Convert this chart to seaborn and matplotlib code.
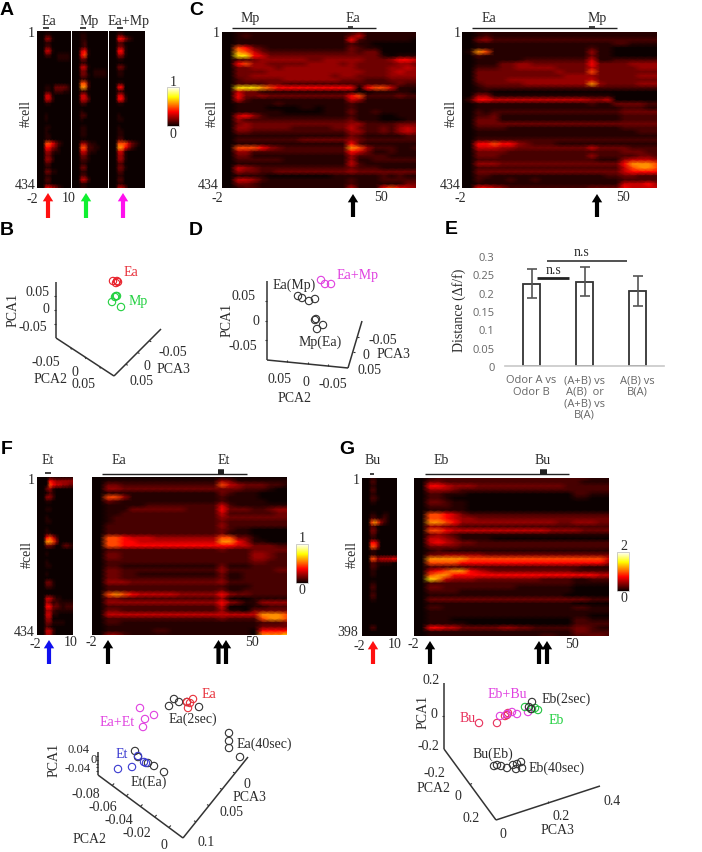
"""Multi-panel calcium imaging figure: heatmaps, PCA projections and a bar plot."""
import numpy as np
import matplotlib
matplotlib.use("Agg")
import matplotlib.pyplot as plt
from matplotlib.cm import ScalarMappable
from matplotlib.colors import Normalize
import seaborn as sns

W, H = 702, 853
DARK = "#2b2b2b"

# df/f level for each digit used in the heatmap rows below
digit_levels = [0, 0.04, 0.09, 0.15, 0.21, 0.28, 0.37, 0.47, 0.58, 0.7]

# heatmap rows, one digit per time bin
a_ea = """000000000000 000110000000 000441000000 000110000000 000220000000 000551000000 000220011110 000000011110
000000000000 000000000000 000000000000 000000000000 000000000000 000000000000 000110333320 000110222110
000551000000 000552000000 000110000000 000000000000 000000000000 000100000000 000100000000 000000000000
000110000000 000100000000 000110000000 000110000000 000776421000 000664310000 000442110000 000331000000
000442000000 000220000000 000110000000 000331100000 000110000000 000220000000 000110000000 000665421000""".split()
a_mp = """000000000000 000110000000 000110000000 000120000000 000120000000 000561000000 000671000000 000330000000
000110000000 000551000000 000330011110 000331011110 000110000000 000772000000 000882000000 000110000000
000551000000 000553000000 000220000000 000000000000 000100000000 000220000000 000100000000 000000000000
000110000000 000110000000 000110000000 000000000000 000442110000 000772211000 000552110000 000331000000
000221000000 000110000000 000330000000 000110000000 000220000000 000552000000 000110000000 000110000000""".split()
a_mix = """000000000000 000220000000 000664210000 000220000000 000331000000 000661000000 000441000000 000110000000
000000000000 000331000000 000110000000 000110000000 000000000000 000110000000 000660000000 000110000000
000551000000 000662000000 000110000000 000000000000 000000000000 000100000000 000110000000 000000000000
000100000000 000110000000 000110000000 000220000000 000777532100 000886421000 000551000000 000441000000
000441000000 000220000000 000331000000 000220000000 000110000000 000220000000 000110000000 000553000000""".split()

c_left = """0011111111111111121111111 0012111111111111351111111 0011111111111111621111110 0011111111111111211000000
0076321111111111321100000 0087532222222222323300000 0099653333333333333310111 0022344444433444443334665
0067443333344443433333443 0033444344444444433334454 0033334444444444443334544 0033444444444434433334444
0023333344444443332223333 0022223322222222222222322 0099987666666666606775111 0053311111111111100111110
0063343333333333672222322 0052111111111111541111111 0011111211111111211111111 0011110000110111211111111
0011111100000111311211111 0056421111111111211100111 0042222222222222311100011 0034333333333333442222333
0044333332222233532232454 0033222222222222442232454 0011111111111111321111122 0022222222333333432222222
0011111111111111621111111 0077764322222222874222112 0044222222222222653112111 0033111111111111422221111
0022222211111111411222222 0011111111111111521111111 0054322222222222322211111 0043322333333333433333333
0011110000000011111121211 0055421111111111211122222 0033211111111111211111133 0012211111111111511167654""".split()
c_right = """0011111111111111111111111 0012111111111111111111111 0034222222222222222222222 0011111111111111111221111
0011111111111111211000000 0187111111111111411000000 0021111111111111311000000 0011111122222222511222222
0011133443333333633334444 0022233444443333533333444 0033333333334333733333333 0033333333333444433333444
0033334444444444533333333 0023333344444444843333444 0012222222222222222222222 0011000000000000000000000
0044111111111111111000000 0266555555555555445000000 0011111111111111211333322 0011111111111111111122211
0021222222222222222233333 0022311111111111111122222 0033311111111111111122222 0033333333333333333333333
0022221111111111111122222 0011111111111111111111222 0011111111111111111111111 0022222222222222222222222
0066766432221111111111111 0055544333333333533332222 0033332222222222222233322 0033322222222222422222332
0022222222222222211145554 0044433333333333333368887 0022222222222222222257887 0033333333333333333356666
0022111111111111112233222 0021112112111111111122222 0011111111111111111155564 0066542222222222333365555""".split()

f_left = """000000000000 000065444444 000076554433 000341000000 000021000000 000442000000 000110000000 000000000000
000110000000 000000000000 000100000000 000110000000 000000000000 000100000000 000110000000 000675200000
000887400000 000332002321 000000000000 000100000000 000000000000 000100000000 000110000000 000000000000
000100000000 000000000000 000331000000 000221000000 000000000000 000000000000 000553110000 000431211111
000663321222 000442111111 000551100000 000440000000 000331111000 000210000000 000552000000 000441000000""".split()
f_right = """0000000000000000000000000 0011111111111111431111111 0033222222222222754333221 0044333333333333333222100
0011111111111111321110000 0077411111111111211110000 0032111111111111211111000 0011111222222222521111111
0011133333332222633322344 0011222222222222522222233 0012222222222222433333333 0012222222222222322222222
0022222222222222422222222 0022222222222222321100000 0022222222222222311100000 0077655544444444773310000
0077665555555555886411000 0077666666666666665533322 0022222222222222322233333 0033222222222222222244322
0033222222222222222244322 0022222222222222222233222 0022111111111111311122222 0033222222222222422222233
0033221111111111311222222 0033222222222222311222222 0044433333333333422222222 0022222222222222211122222
0022222222222222311222222 0078765555544444643322222 0033222222222222400011111 0044444444444444643114444
0022222222222222500011222 0033222222222222411033333 0055555555555555555558887 0022222222222222322227887
0022111111111111111112223 0011111111111111111113333 0011111122111111111106666 0044211111111111111108889""".split()

g_left = """000110000000 000220000000 000110000000 000220000000 000110000000 000221000000 000110000000 000000000000
000000000000 000110011000 000221121000 000787421000 000220000000 000331000000 000220000000 000110000000
000664000000 000774000000 000110000000 000110000000 000774555565 000221111100 000221000000 000110000000
000110000000 000000000000 000110000000 000220000000 000110000000 000220000000 000110000000 000000000000
000000000000 000000000000 000000000000 000000000000 000000000000 000220000000 000000000000 000000000000""".split()
g_right = """0012222222222222222222111 0033222222222222222221111 0066544433333333333222222 0044432222222222222222222
0022111000000000000022111 0022100000000000000011000 0033211000000000000000000 0022211000000000000000000
0011111000000000000000000 0077653222222222222222222 0077654433333333333333333 0088764444444444443344433
0044332222222222222222222 0077655555555555544443333 0034321111111111111111111 0055431111000000000000000
0056543322222222222222222 0033332222222222222222222 0012111111111111111111111 0033444443333333333333333
0088888777777777777777775 0077776666666666666666664 0022222222222222222221111 0056788654333333333322222
0078866666666666666666655 0098544433333333222211222 0022222222222222222211111 0033222222222111111100000
0022221111111111111100000 0011111111111111111000000 0033333333333333333333222 0011111111111111111100000
0022111111111111111122111 0011111111111111111111111 0011111111111111111111000 0011100000000000000022111
0011111000000000000022222 0066553333344332222233211 0011111111111111111133222 0011111111111111221122332""".split()

# panel E
bar_labels = ["Odor A vs\nOdor B", "(A+B) vs\nA(B)  or\n(A+B) vs\nB(A)", "A(B) vs\nB(A)"]
bar_values = [0.225, 0.23, 0.205]
bar_errors = [0.039, 0.039, 0.04]
bar_ticks = [0, 0.05, 0.1, 0.15, 0.2, 0.25, 0.3]
bar_tick_labels = ["0", "0.05", "0.1", "0.15", "0.2", "0.25", "0.3"]

# PCA projections
b_ea_x, b_ea_y = [113, 117, 118, 116], [282, 282, 283, 284]
b_mp_x, b_mp_y = [116, 115, 112, 121, 117], [297, 298, 303, 308, 297]
d_mix_x, d_mix_y = [321, 325, 331], [281, 285, 285]
d_ea_x, d_ea_y = [298, 302, 309, 315], [297, 299, 302, 300]
d_mp_x, d_mp_y = [315, 316, 323, 317], [321, 320, 326, 330]
f_2s_x, f_2s_y = [174, 179, 169, 187, 199], [700, 703, 707, 703, 708]
f_ea_x, f_ea_y = [187, 193, 188, 190], [703, 700, 709, 704]
f_mix_x, f_mix_y = [140, 145, 154, 143], [709, 720, 716, 728]
f_40s_x, f_40s_y = [229, 229, 229, 240], [734, 742, 749, 758]
f_et_x, f_et_y = [118, 132, 138, 144, 146], [770, 768, 757, 763, 764]
f_etea_x, f_etea_y = [135, 148, 154, 164, 138], [752, 764, 767, 773, 758]
g_bu_x, g_bu_y = [479, 497, 505, 508, 507], [724, 724, 717, 714, 716]
g_mix_x, g_mix_y = [500, 512, 517, 528, 507], [717, 713, 715, 713, 715]
g_eb_x, g_eb_y = [525, 538, 532, 535], [708, 711, 710, 709]
g_2s_x, g_2s_y = [532, 529, 531], [703, 708, 710]
g_40s_x = [494, 497, 501, 507, 513, 516, 517, 521, 522]
g_40s_y = [767, 766, 767, 769, 766, 770, 765, 763, 769]

sns.set_style("white")
plt.rcParams["font.family"] = ["Liberation Serif", "DejaVu Serif"]

fig = plt.figure(figsize=(W / 100, H / 100), dpi=100, facecolor="white")


def px_axes(x0, y0, x1, y1, **kw):
    return fig.add_axes([x0 / W, 1 - y1 / H, (x1 - x0) / W, (y1 - y0) / H], **kw)


def draw_heatmap(rows, box):
    ax = px_axes(*box)
    width = max(len(r) for r in rows)
    data = np.array([[digit_levels[int(c)] for c in r.ljust(width, "0")] for r in rows])
    sns.heatmap(data, ax=ax, cmap="hot", vmin=0, vmax=1, cbar=False,
                xticklabels=False, yticklabels=False, shading="gouraud")
    ax.set_xlim(0, data.shape[1] - 1)
    ax.set_ylim(data.shape[0] - 1, 0)
    return ax


def draw_colorbar(box):
    cax = px_axes(*box)
    cb = fig.colorbar(ScalarMappable(Normalize(0, 1), "hot"), cax=cax)
    cb.set_ticks([])
    cb.outline.set_edgecolor("#bbbbbb")
    cb.outline.set_linewidth(0.5)


draw_heatmap(a_ea, (37, 32, 71, 189))
draw_heatmap(a_mp, (72, 32, 108, 189))
draw_heatmap(a_mix, (109, 32, 145, 189))
draw_heatmap(c_left, (222, 33, 416, 189))
draw_heatmap(c_right, (462, 33, 657, 189))
draw_heatmap(f_left, (37, 478, 73, 636))
draw_heatmap(f_right, (92, 478, 287, 636))
draw_heatmap(g_left, (362, 479, 397, 637))
draw_heatmap(g_right, (414, 479, 609, 637))
draw_colorbar((167, 88, 179, 127))
draw_colorbar((296, 545, 308, 584))
draw_colorbar((617, 553, 629, 592))

# panel E
bar_ax = px_axes(505, 257, 664, 367)
sns.barplot(x=bar_labels, y=bar_values, ax=bar_ax, color="white", edgecolor="#333333",
            linewidth=1.3, width=0.33, errorbar=None)
bar_ax.errorbar(range(3), bar_values, yerr=bar_errors, fmt="none", ecolor="#555555",
                elinewidth=1.2, capsize=3.5, capthick=1.2)
bar_ax.set_xlim(-0.5, 2.5)
bar_ax.set_ylim(0, 0.3)
bar_ax.set_yticks(bar_ticks, bar_tick_labels)
bar_ax.tick_params(axis="y", length=0, pad=7.5, labelsize=8, labelcolor="#666666")
bar_ax.tick_params(axis="x", length=0, pad=6, labelsize=8, labelcolor="#666666")
for lab in bar_ax.get_xticklabels() + bar_ax.get_yticklabels():
    lab.set_family("Open Sans")
for lab in bar_ax.get_xticklabels():
    lab.set_linespacing(1.05)
bar_ax.patch.set_alpha(0)
sns.despine(ax=bar_ax, left=True)
bar_ax.spines["bottom"].set_color("#c8c8c8")
bar_ax.spines["bottom"].set_linewidth(1.2)

# everything drawn by hand goes on a page-sized overlay in pixel units
page = fig.add_axes([0, 0, 1, 1], zorder=10)
page.set_xlim(0, W)
page.set_ylim(H, 0)
page.set_autoscale_on(False)
page.axis("off")


def note(x, y, s, color=DARK, size=10, **kw):
    page.text(x, y, s, color=color, fontsize=size, ha="center", va="center", **kw)


def panel(x, y, s):
    page.text(x, y, s, fontsize=14, fontweight="bold", family="Liberation Sans",
              ha="center", va="center", color="black")


def rings(xs, ys, color):
    sns.scatterplot(x=xs, y=ys, ax=page, s=28, facecolor="none", edgecolor=color,
                    linewidth=0.8, clip_on=False)


def arrow(x, y0, y1, color="black"):
    page.annotate("", xy=(x, y0), xytext=(x, y1),
                  arrowprops=dict(facecolor=color, edgecolor="none", width=3,
                                  headwidth=7.5, headlength=6, shrink=0))


def line(x0, x1, y0, y1=None, lw=1.0, color="#222222"):
    page.plot([x0, x1], [y0, y0 if y1 is None else y1], color=color, lw=lw,
              solid_capstyle="butt")


def axis3d(p0, p1, nticks=0, tick=(0, 0)):
    line(p0[0], p1[0], p0[1], p1[1], lw=1.1, color="#333333")
    for i in range(1, nticks + 1):
        fx = p0[0] + (p1[0] - p0[0]) * i / (nticks + 1)
        fy = p0[1] + (p1[1] - p0[1]) * i / (nticks + 1)
        line(fx, fx + tick[0], fy, fy + tick[1], lw=0.8, color="#333333")


for letter, lx, ly in [("A", 7, 10), ("B", 7, 230), ("C", 196, 10), ("D", 196, 230),
                       ("E", 451, 229), ("F", 7, 449), ("G", 347, 449)]:
    panel(lx, ly, letter)

# panel A
note(49, 21, "Ea"), note(89, 21, "Mp"), note(129, 21, "Ea+Mp")
for ux in (46, 83, 120):
    line(ux - 3, ux + 3, 28.5, lw=1.2)
note(31, 33, "1"), note(25, 185, "434"), note(32, 199, "-2"), note(69, 198, "10")
note(26, 113, "#cell", rotation=90)
arrow(48, 194, 219, "#ff1010"), arrow(86, 194, 219, "#10f030"), arrow(123, 194, 219, "#ff10ee")
note(173, 82, "1"), note(173, 134, "0")

# panel C
line(232, 376, 29), line(348, 353, 27.5, lw=1.2)
note(250, 18, "Mp"), note(353, 18, "Ea")
note(216, 33, "1"), note(208, 185, "434"), note(217, 198, "-2"), note(381, 197, "50")
note(212, 113, "#cell", rotation=90)
arrow(353, 195, 218)
line(472, 617, 29), line(589, 595, 27.5, lw=1.2)
note(489, 18, "Ea"), note(597, 18, "Mp")
note(457, 33, "1"), note(450, 185, "434"), note(460, 198, "-2"), note(623, 197, "50")
note(451, 113, "#cell", rotation=90)
arrow(597, 195, 218)

# panel B
axis3d((56, 283), (56, 339), 3, (-2, 0))
axis3d((56, 339), (114, 377), 3, (1, 2))
axis3d((114, 377), (161, 330), 3, (2, 1))
note(37, 292, "0.05"), note(46, 309, "0"), note(33, 327, "-0.05")
note(13, 310, "PCA1", rotation=90)
note(46, 362, "-0.05"), note(51, 379, "PCA2"), note(75, 372, "0"), note(84, 384, "0.05")
note(142, 381, "0.05"), note(173, 369, "PCA3"), note(147, 366, "0"), note(173, 352, "-0.05")
rings(b_ea_x, b_ea_y, "#e8202a")
rings(b_mp_x, b_mp_y, "#22d040")
note(131, 272, "Ea", color="#e8303a"), note(138, 301, "Mp", color="#22d040")

# panel D
axis3d((267, 282), (267, 361), 3, (-2, 0))
axis3d((267, 361), (348, 369), 3, (0, -2))
axis3d((348, 369), (362, 322), 2, (2, 0))
note(243, 296, "0.05"), note(256, 321, "0"), note(243, 346, "-0.05")
note(227, 320, "PCA1", rotation=90)
note(279, 379, "0.05"), note(306, 382, "0"), note(333, 384, "-0.05"), note(295, 398, "PCA2")
note(383, 340, "-0.05"), note(366, 355, "0"), note(393, 354, "PCA3"), note(370, 370, "0.05")
rings(d_mix_x, d_mix_y, "#e040e0")
rings(d_ea_x, d_ea_y, "#333333")
rings(d_mp_x, d_mp_y, "#333333")
note(358, 275, "Ea+Mp", color="#e040e0"), note(294, 285, "Ea(Mp)"), note(320, 342, "Mp(Ea)")

# panel E labels and brackets
note(459, 310, "Distance (\u0394f/f)", rotation=90)
line(547, 627, 262, lw=1.1), note(582, 252, "n.s")
line(537, 569, 279, lw=2), note(554, 270, "n.s")

# panel F
note(48, 461, "Et"), note(119, 461, "Ea"), note(224, 461, "Et")
line(45, 51, 474, lw=1.2)
line(102, 247, 474.5), line(218, 224, 472.5, lw=4)
note(31, 481, "1"), note(24, 632, "434"), note(35, 644, "-2"), note(71, 643, "10")
note(91, 643, "-2"), note(252, 643, "50"), note(27, 555, "#cell", rotation=90)
arrow(49, 641, 665, "#1010ee"), arrow(108, 641, 665), arrow(218.5, 641, 665), arrow(226, 641, 665)
note(302, 539, "1"), note(302, 591, "0")

# panel G
note(373, 461, "Bu"), note(441, 461, "Eb"), note(543, 461, "Bu")
line(370, 374, 474.5, lw=1.2)
line(425, 569, 474.5), line(540, 547, 472.5, lw=4)
note(356, 481, "1"), note(348, 633, "398"), note(359, 646, "-2"), note(395, 645, "10")
note(413, 645, "-2"), note(572, 645, "50"), note(352, 555, "#cell", rotation=90)
arrow(373, 642, 665, "#ff1010"), arrow(430, 642, 665), arrow(539, 642, 665), arrow(547, 642, 665)
note(624, 547, "2"), note(624, 599, "0")

# panel F projection
axis3d((98, 753), (98, 776), 5, (-2, 0))
axis3d((98, 776), (183, 839), 5, (2, -2))
axis3d((183, 839), (248, 758), 4, (-2, -1))
note(79, 750, "0.04", size=9), note(94, 760, "0", size=9), note(78, 769, "-0.04", size=9)
note(54, 760, "PCA1", rotation=90)
note(86, 795, "-0.08"), note(103, 808, "-0.06"), note(119, 821, "-0.04"), note(137, 834, "-0.02")
note(164, 846, "0"), note(90, 840, "PCA2"), note(206, 843, "0.1"), note(232, 813, "0.05")
note(249, 798, "PCA3"), note(247, 785, "0")
rings(f_2s_x, f_2s_y, "#333333")
rings(f_ea_x, f_ea_y, "#e8303a")
rings(f_mix_x, f_mix_y, "#e040e0")
rings(f_40s_x, f_40s_y, "#333333")
rings(f_etea_x, f_etea_y, "#333333")
rings(f_et_x, f_et_y, "#3a3ad0")
note(209, 694, "Ea", color="#e8303a"), note(117, 723, "Ea+Et", color="#e040e0")
note(193, 719, "Ea(2sec)"), note(264, 744, "Ea(40sec)")
note(122, 755, "Et", color="#3a3ad0"), note(149, 782, "Et(Ea)")

# panel G projection
axis3d((444, 684), (444, 750), 1, (-2, 0))
axis3d((444, 750), (496, 821), 1, (2, -1))
axis3d((496, 821), (600, 787), 1, (0, -2))
note(431, 681, "0.2"), note(434, 715, "0"), note(428, 746, "-0.2"), note(423, 712, "PCA1", rotation=90)
note(434, 774, "-0.2"), note(434, 789, "PCA2"), note(458, 797, "0"), note(471, 819, "0.2")
note(503, 835, "0"), note(557, 831, "PCA3"), note(561, 817, "0.2"), note(612, 802, "0.4")
rings(g_bu_x, g_bu_y, "#e8305a")
rings(g_mix_x, g_mix_y, "#e040e0")
rings(g_eb_x, g_eb_y, "#22c040")
rings(g_2s_x, g_2s_y, "#333333")
rings(g_40s_x, g_40s_y, "#333333")
note(507, 695, "Eb+Bu", color="#e040e0"), note(566, 699, "Eb(2sec)"), note(556, 720, "Eb", color="#22d040")
note(468, 718, "Bu", color="#e8305a"), note(493, 754, "Bu(Eb)"), note(557, 768, "Eb(40sec)")

fig.savefig("out.png", dpi=100)
